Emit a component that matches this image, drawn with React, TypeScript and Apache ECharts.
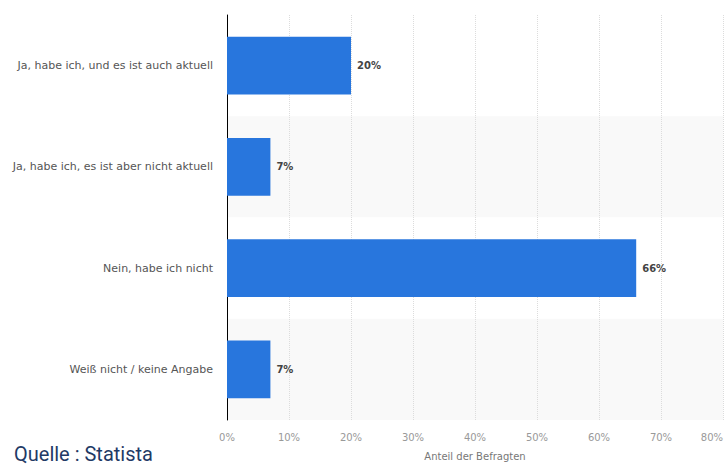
import React, { useEffect, useRef } from "react";
import * as echarts from "echarts";

const categories = [
  "Ja, habe ich, und es ist auch aktuell",
  "Ja, habe ich, es ist aber nicht aktuell",
  "Nein, habe ich nicht",
  "Weiß nicht / keine Angabe",
];
const values = [20, 7, 66, 7];
const xTicks = [0, 10, 20, 30, 40, 50, 60, 70, 80];

export default function App() {
  const ref = useRef<HTMLDivElement>(null);
  useEffect(() => {
    if (!ref.current) return;
    const chart = echarts.init(ref.current, null, { renderer: "svg" });
    chart.setOption({
      animation: false,
      backgroundColor: "#ffffff",
      grid: { left: 227, right: 3, top: 15, bottom: 41, containLabel: false },
      xAxis: {
        type: "value",
        min: xTicks[0],
        max: xTicks[xTicks.length - 1],
        interval: 10,
        name: "Anteil der Befragten",
        nameLocation: "middle",
        nameGap: 31,
        nameTextStyle: { color: "#777", fontSize: 10, fontFamily: "DejaVu Sans" },
        axisLine: { show: false },
        axisTick: { show: false },
        axisLabel: {
          color: "#999",
          fontSize: 10,
          fontFamily: "DejaVu Sans",
          margin: 12,
          formatter: (v: number) => v + "%",
          alignMaxLabel: "right",
        },
        splitLine: { show: true, lineStyle: { color: "#dcdcdc", type: [1, 1], width: 1 } },
      },
      yAxis: {
        type: "category",
        data: categories,
        inverse: true,
        axisLine: { show: true, lineStyle: { color: "#000", width: 1 } },
        axisTick: { show: false },
        axisLabel: { color: "#555", fontSize: 11, fontFamily: "DejaVu Sans", margin: 14 },
        splitArea: { show: true, areaStyle: { color: ["#ffffff", "#f9f9f9"] } },
      },
      series: [
        {
          type: "bar",
          data: values,
          barWidth: "57%",
          itemStyle: { color: "#2876dd" },
          label: {
            show: true,
            position: "right",
            distance: 6,
            formatter: "{c}%",
            color: "#444",
            fontWeight: "bold",
            fontSize: 10,
            fontFamily: "DejaVu Sans",
          },
        },
      ],
      graphic: [
        {
          type: "text",
          left: 14,
          top: 444,
          style: {
            text: "Quelle : Statista",
            fill: "#1f3a66",
            fontSize: 20,
            lineHeight: 20,
            fontFamily: "Roboto",
          },
        },
      ],
    });
    return () => chart.dispose();
  }, []);
  return (
    <div
      ref={ref}
      style={{ position: "fixed", left: 0, top: 0, width: 726, height: 466 }}
    />
  );
}
